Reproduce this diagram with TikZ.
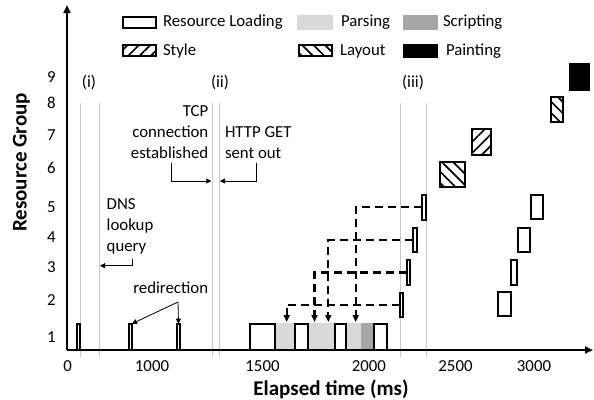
\documentclass[tikz,border=0pt]{standalone}
\usepackage{fontspec}
\setmainfont{Carlito}
\usetikzlibrary{arrows.meta,fit,patterns.meta}
\definecolor{parsecol}{HTML}{D9D9D9}
\definecolor{scriptcol}{HTML}{A6A6A6}
\definecolor{guidecol}{HTML}{C8C8C8}
\newcommand\Bx[6]{\node[#1, fit={({#3+1},{#4+1}) ({#5-1},{#6-1})}] (#2) {};}
\newcommand\Fl[6]{\node[#1, fit={(#3,#4) (#5,#6)}] (#2) {};}
\begin{document}
\begin{tikzpicture}[x=1pt,y=-1pt,
  font=\fontsize{16.8}{21}\selectfont,
  every node/.style={inner sep=0pt, outer sep=0pt},
  box/.style={draw=black, line width=2pt, fill=white, minimum width=0pt, minimum height=0pt},
  stylebox/.style={box, fill=none, pattern={Lines[angle=45,distance=8pt,line width=1.7pt]}},
  layoutbox/.style={box, fill=none, pattern={Lines[angle=-45,distance=8pt,line width=1.7pt]}},
  paintbox/.style={box, fill=black},
  parsefill/.style={fill=parsecol, minimum width=0pt, minimum height=0pt},
  scriptfill/.style={fill=scriptcol, minimum width=0pt, minimum height=0pt},
  guide/.style={draw=guidecol, line width=1pt},
  axisline/.style={line width=2.2pt, -{Triangle[length=8pt,width=7pt]}},
  dep/.style={line width=2.2pt, dash pattern=on 8pt off 5pt, -{Triangle[length=7pt,width=6pt]}},
  ann/.style={line width=0.8pt, -{Triangle[length=5pt,width=5pt]}},
  lbl/.style={anchor=base west},
  boldlbl/.style={font=\fontsize{21}{24}\bfseries}
]
\useasboundingbox (0,0) rectangle (594,399);

% guide lines
\draw[guide] (80,103) -- (80,356.5);
\draw[guide] (99,103) -- (99,356.5);
\draw[guide] (212.3,103) -- (212.3,356.5);
\draw[guide] (219,103) -- (219,356.5);
\draw[guide] (400,103) -- (400,356.5);
\draw[guide] (426,103) -- (426,356.5);

% parsing / scripting fills
\Fl{parsefill}{pa}{276}{322.7}{294}{350}
\Fl{parsefill}{pb}{309}{322.7}{334}{350}
\Fl{parsefill}{pc}{346.7}{322.7}{360.7}{350}
\Fl{scriptfill}{sa}{360.7}{322.7}{373.3}{350}

% group 1 loading boxes
\Bx{box}{ra}{76}{322.7}{81.3}{351}
\Bx{box}{rb}{128}{322.7}{133}{351}
\Bx{box}{rc}{176}{322.7}{181}{351}
\Bx{box}{rd}{249}{322.7}{276}{351}
\Bx{box}{re}{294}{322.7}{309}{351}
\Bx{box}{rf}{334}{322.7}{346.7}{351}
\Bx{box}{rg}{373.3}{322.7}{387.7}{351}

% groups 2-5
\Bx{box}{mb}{399.3}{291.7}{404.3}{317.7}
\Bx{box}{mc}{405.7}{259}{411}{286}
\Bx{box}{md}{411.7}{226.7}{417.7}{253.3}
\Bx{box}{me}{421}{194}{426.7}{220.7}
\Bx{box}{nb}{497.3}{291}{511.7}{317.3}
\Bx{box}{nc}{510.3}{259}{517.7}{285.7}
\Bx{box}{nd}{516.7}{226.7}{531}{253.3}
\Bx{box}{ne}{530}{193.7}{544.3}{220.3}

% groups 6-9
\Bx{layoutbox}{lf}{439}{161.3}{466}{188.3}
\Bx{stylebox}{sg}{471}{128.3}{492.3}{155.7}
\Bx{layoutbox}{lh}{550}{96}{564}{123.3}
\Bx{paintbox}{pi}{569}{62.7}{590}{90.7}

% axes
\coordinate (O) at (67,350);
\coordinate (Ytop) at (67,5);
\coordinate (Xend) at (593,350);
\draw[axisline] (O) -- (Ytop);
\draw[axisline] (O) -- (Xend);

% dependency arrows
\coordinate (pA) at (286.7,322);
\coordinate (pB) at (314.5,322);
\coordinate (pC) at (328.3,322);
\coordinate (pD) at (355.7,322);
\draw[dep] (mb.west) -| (pA);
\draw[dep] (mc.west) -| (pB);
\draw[dep] (md.west) -| (pC);
\draw[dep] (me.west) -| (pD);

% y tick labels
\foreach \n/\yy in {1/342,2/305,3/272.5,4/242.5,5/212,6/173.5,7/140.5,8/108.5,9/82.5}
  \node[anchor=base] (yt\n) at (51.5,\yy) {\n};
% x tick labels
\node[anchor=base] (x0) at (67.7,371) {0};
\node[anchor=base] (x1000) at (152,371) {1000};
\node[anchor=base] (x1500) at (262.5,371) {1500};
\node[anchor=base] (x2000) at (368.8,371) {2000};
\node[anchor=base] (x2500) at (455.5,371) {2500};
\node[anchor=base] (x3000) at (534,371) {3000};

% axis titles
\node[boldlbl, anchor=base] (xtitle) at (331,395) {Elapsed time (ms)};
\node[boldlbl, anchor=base, rotate=90] (ytitle) at (26.5,162.5) {Resource Group};

% phase labels
\node[anchor=base] (ph1) at (89,87) {(i)};
\node[anchor=base] (ph2) at (220,87) {(ii)};
\node[anchor=base] (ph3) at (413,87) {(iii)};

% annotations (base anchor = last line)
\node[anchor=base east, align=right] (tcp) at (208.3,158) {TCP\\connection\\established};
\node[anchor=base west, align=left] (http) at (225,158) {HTTP GET\\sent out};
\node[anchor=base west, align=left] (dns) at (106.7,251) {DNS\\lookup\\query};
\node[anchor=base west] (redir) at (133.3,293) {redirection};

\coordinate (tcpS) at (171,163);
\coordinate (tcpE) at (211.3,181);
\draw[ann] (tcpS) |- (tcpE);
\coordinate (httpS) at (256,163);
\coordinate (httpE) at (220,181);
\draw[ann] (httpS) |- (httpE);
\coordinate (dnsS) at (132.7,259);
\coordinate (dnsE) at (100,265.7);
\draw[ann] (dnsS) |- (dnsE);
\coordinate (rdS) at (178,302);
\draw[ann] (rdS) -- (rb.north east);
\draw[ann] (rdS) -- (rc.north);

% legend
\Bx{box}{lgRL}{122}{16}{157}{29.3}
\node[lbl] (tRL) at (163,26) {Resource Loading};
\Fl{parsefill}{lgP}{297}{15}{333}{30}
\node[lbl] (tP) at (341,26.5) {Parsing};
\Fl{scriptfill}{lgS}{403}{15}{438}{30}
\node[lbl] (tS) at (443,26.5) {Scripting};
\Bx{stylebox}{lgSt}{122}{44}{157}{57.3}
\node[lbl] (tSt) at (163,55) {Style};
\Bx{layoutbox}{lgL}{298}{44}{333}{57.3}
\node[lbl] (tL) at (340,55) {Layout};
\Bx{paintbox}{lgPt}{403}{43.7}{438}{58}
\node[lbl] (tPt) at (446,55.5) {Painting};
\end{tikzpicture}
\end{document}
